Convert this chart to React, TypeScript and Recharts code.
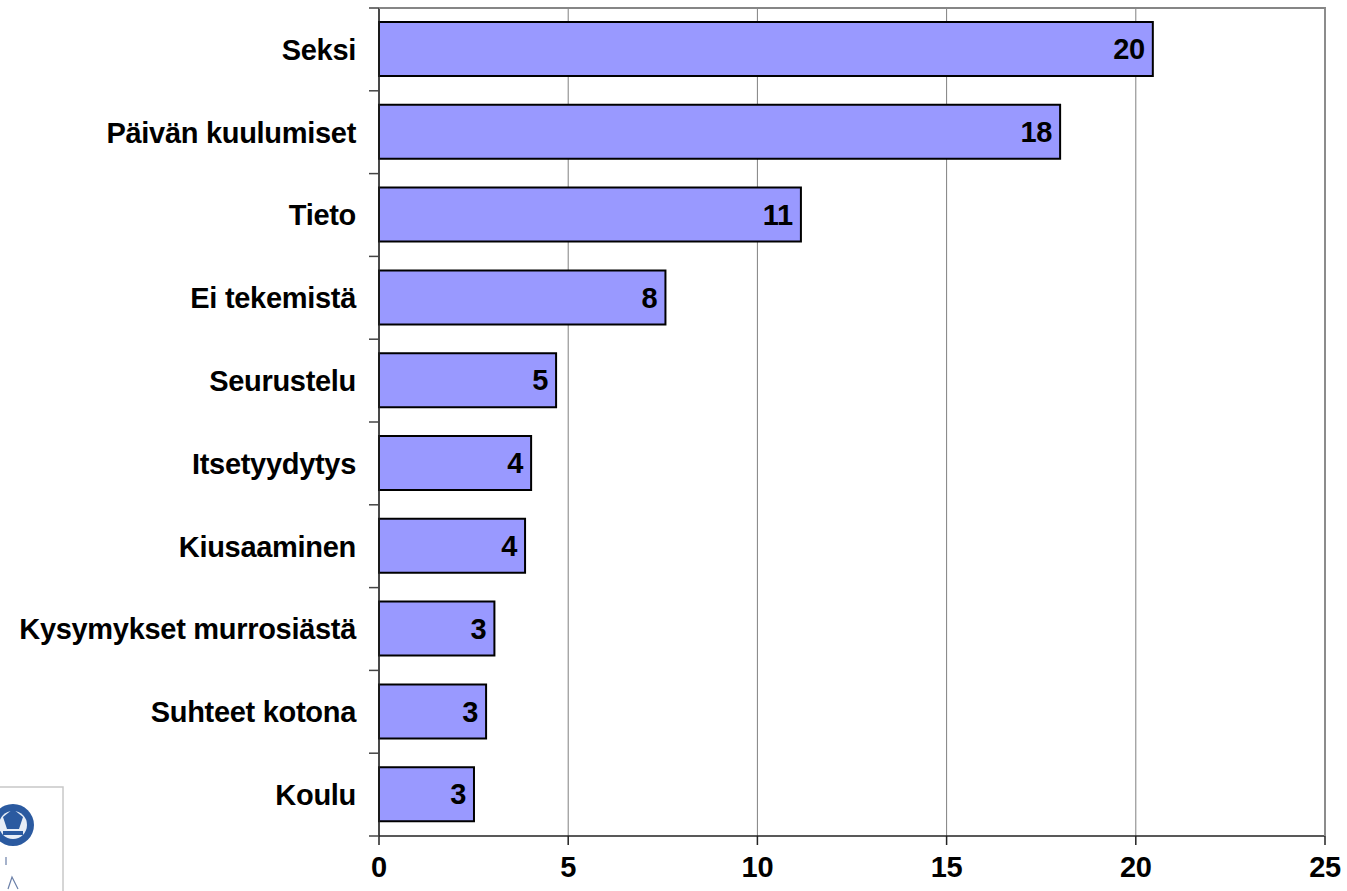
import { BarChart, Bar, XAxis, YAxis, CartesianGrid, LabelList } from 'recharts'

const categories = [
  'Seksi',
  'Päivän kuulumiset',
  'Tieto',
  'Ei tekemistä',
  'Seurustelu',
  'Itsetyydytys',
  'Kiusaaminen',
  'Kysymykset murrosiästä',
  'Suhteet kotona',
  'Koulu',
]
const values = [20.45, 18.0, 11.15, 7.57, 4.68, 4.02, 3.86, 3.05, 2.83, 2.51]
const shownLabels = ['20', '18', '11', '8', '5', '4', '4', '3', '3', '3']
const xTicks = [0, 5, 10, 15, 20, 25]

const data = categories.map((name, i) => ({ name, value: values[i], shown: shownLabels[i] }))

const W = 1347
const H = 891
const MARGIN = { top: 8, right: 22, bottom: 0, left: 0 }
const Y_AXIS_W = 379
const X_AXIS_H = 55
const PLOT_H = H - MARGIN.top - MARGIN.bottom - X_AXIS_H
const BAND = PLOT_H / categories.length
const FONT = '"Liberation Sans", Arial, sans-serif'
const TEXT = { fontFamily: FONT, fontWeight: 700, fontSize: 29, letterSpacing: -0.3 }

// category labels + the little boundary ticks between categories
const CategoryTick = ({ x, y, payload, index }: any) => (
  <g>
    <line x1={x + 13} x2={x + 23} y1={y - BAND / 2} y2={y - BAND / 2} stroke="#444" strokeWidth={1.5} />
    {index === categories.length - 1 && (
      <line x1={x + 13} x2={x + 23} y1={y + BAND / 2} y2={y + BAND / 2} stroke="#444" strokeWidth={1.5} />
    )}
    <text x={x} y={y} dy="0.36em" textAnchor="end" fill="#000" style={TEXT}>
      {payload.value}
    </text>
  </g>
)

const Logo = () => (
  <svg width={70} height={110} style={{ position: 'absolute', left: 0, top: 781 }}>
    <rect x={-2} y={6} width={65} height={120} fill="#fff" stroke="#c8c8c8" strokeWidth={1.5} />
    <circle cx={13} cy={44} r={21} fill="#2b5aa0" />
    <circle cx={13} cy={44} r={14} fill="#e8eef7" />
    <path d="M3 36 L13 28 L23 36 L19 48 L7 48 Z" fill="#2b5aa0" />
    <rect x={3} y={50} width={20} height={4} fill="#2b5aa0" />
    <line x1={6} y1={76} x2={6} y2={84} stroke="#6a7fa8" strokeWidth={1.2} />
    <path d="M8 108 L12 96 L18 108" fill="none" stroke="#6a7fa8" strokeWidth={1.2} />
  </svg>
)

export default function App() {
  return (
    <div style={{ position: 'absolute', left: 0, top: 0, width: W, height: H, background: '#fff' }}>
      <BarChart width={W} height={H} data={data} layout="vertical" margin={MARGIN}>
        <CartesianGrid horizontal={false} stroke="#808080" strokeWidth={1} />
        <XAxis
          type="number"
          domain={[0, 25]}
          ticks={xTicks}
          height={X_AXIS_H}
          tickSize={9}
          tickMargin={11}
          tickLine={{ stroke: '#222', strokeWidth: 1.5 }}
          axisLine={{ stroke: '#222', strokeWidth: 1.5 }}
          tick={{ fill: '#000', ...TEXT }}
        />
        <YAxis
          type="category"
          dataKey="name"
          width={Y_AXIS_W}
          tickSize={10}
          tickMargin={13}
          tickLine={false}
          axisLine={{ stroke: '#222', strokeWidth: 1.5 }}
          tick={<CategoryTick />}
          interval={0}
        />
        <Bar dataKey="value" fill="#9999ff" stroke="#000" strokeWidth={2} barSize={54} isAnimationActive={false}>
          <LabelList dataKey="shown" position="insideRight" offset={8} fill="#000" style={TEXT} />
        </Bar>
      </BarChart>
      {/* grey top / right edge of the plot frame */}
      <div
        style={{
          position: 'absolute',
          left: Y_AXIS_W,
          top: MARGIN.top - 1,
          width: W - Y_AXIS_W - MARGIN.right + 1,
          height: PLOT_H + 1,
          borderTop: '2px solid #868686',
          borderRight: '2px solid #8c8c8c',
          boxSizing: 'border-box',
          pointerEvents: 'none',
          zIndex: 5,
        }}
      />
      <Logo />
    </div>
  )
}
